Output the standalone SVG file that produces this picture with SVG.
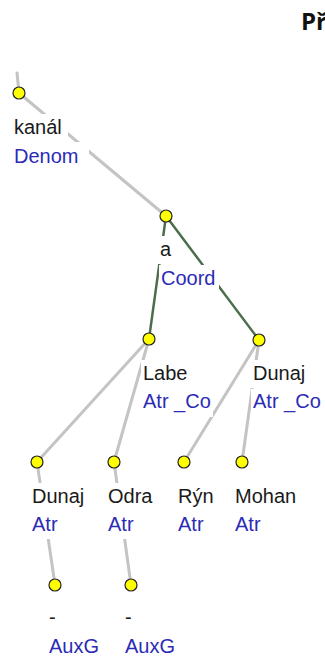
<svg xmlns="http://www.w3.org/2000/svg" width="325" height="661" viewBox="0 0 325 661">
<style>
.g{stroke:#c4c4c4;stroke-width:3;fill:none;stroke-linecap:round}
.d{stroke:#4d6e4d;stroke-width:2.5;fill:none;stroke-linecap:round}
.n{fill:#ffff00;stroke:#222;stroke-width:1.2}
.bg{fill:#fff}
.t{font-family:"Liberation Sans",Arial,sans-serif;font-size:20px;fill:#1a1a1a}
.f{font-family:"Liberation Sans",Arial,sans-serif;font-size:20px;fill:#2b2bb5}
.h{font-family:"Open Sans","Liberation Sans",sans-serif;font-size:24px;font-weight:bold;fill:#111}
</style>
<rect width="325" height="661" fill="#fff"/>
<text class="h" x="301" y="30">Př</text>
<g id="connectors">
<line class="g" x1="17" y1="73" x2="19" y2="93"/>
<line class="g" x1="19" y1="93" x2="166" y2="216"/>
<line class="d" x1="166" y1="216" x2="149" y2="339"/>
<line class="d" x1="166" y1="216" x2="259" y2="340"/>
<line class="g" x1="149" y1="339" x2="37" y2="462"/>
<line class="g" x1="149" y1="339" x2="114" y2="462"/>
<line class="g" x1="259" y1="340" x2="184" y2="462"/>
<line class="g" x1="259" y1="340" x2="242" y2="462"/>
<line class="g" x1="37" y1="462" x2="55" y2="585"/>
<line class="g" x1="114" y1="462" x2="131" y2="585"/>
</g>
<g id="n-kanal">
<rect class="bg" x="12" y="114" width="56" height="28"/>
<rect class="bg" x="12" y="142" width="77" height="28"/>
<circle class="n" cx="19" cy="93" r="6"/>
<text class="t" x="14" y="134">kanál</text>
<text class="f" x="14" y="163">Denom</text>
</g>
<g id="n-a">
<rect class="bg" x="158" y="236" width="16" height="28"/>
<rect class="bg" x="159" y="265" width="60" height="28"/>
<circle class="n" cx="166" cy="216" r="6"/>
<text class="t" x="160" y="256">a</text>
<text class="f" x="161" y="285">Coord</text>
</g>
<g id="n-labe">
<rect class="bg" x="141" y="360" width="50" height="28"/>
<rect class="bg" x="141" y="389" width="72" height="28"/>
<circle class="n" cx="149" cy="339" r="6"/>
<text class="t" x="143" y="380">Labe</text>
<text class="f" x="143" y="408">Atr _Co</text>
</g>
<g id="n-dunaj1">
<rect class="bg" x="251" y="360" width="58" height="28"/>
<rect class="bg" x="251" y="389" width="72" height="28"/>
<circle class="n" cx="259" cy="340" r="6"/>
<text class="t" x="253" y="380">Dunaj</text>
<text class="f" x="253" y="408">Atr _Co</text>
</g>
<g id="n-dunaj2">
<rect class="bg" x="30" y="483" width="58" height="28"/>
<rect class="bg" x="30" y="511" width="36" height="28"/>
<circle class="n" cx="37" cy="462" r="6"/>
<text class="t" x="32" y="503">Dunaj</text>
<text class="f" x="32" y="531">Atr</text>
</g>
<g id="n-odra">
<rect class="bg" x="106" y="483" width="50" height="28"/>
<rect class="bg" x="106" y="511" width="36" height="28"/>
<circle class="n" cx="114" cy="462" r="6"/>
<text class="t" x="108" y="503">Odra</text>
<text class="f" x="108" y="531">Atr</text>
</g>
<g id="n-ryn">
<rect class="bg" x="176" y="483" width="42" height="28"/>
<rect class="bg" x="176" y="511" width="36" height="28"/>
<circle class="n" cx="184" cy="462" r="6"/>
<text class="t" x="178" y="503">Rýn</text>
<text class="f" x="178" y="531">Atr</text>
</g>
<g id="n-mohan">
<rect class="bg" x="233" y="483" width="66" height="28"/>
<rect class="bg" x="233" y="511" width="36" height="28"/>
<circle class="n" cx="242" cy="462" r="6"/>
<text class="t" x="235" y="503">Mohan</text>
<text class="f" x="235" y="531">Atr</text>
</g>
<g id="n-auxg1">
<circle class="n" cx="55" cy="585" r="6"/>
<text class="t" x="49" y="624">-</text>
<text class="f" x="49" y="653">AuxG</text>
</g>
<g id="n-auxg2">
<circle class="n" cx="131" cy="585" r="6"/>
<text class="t" x="125" y="624">-</text>
<text class="f" x="125" y="653">AuxG</text>
</g>
</svg>
